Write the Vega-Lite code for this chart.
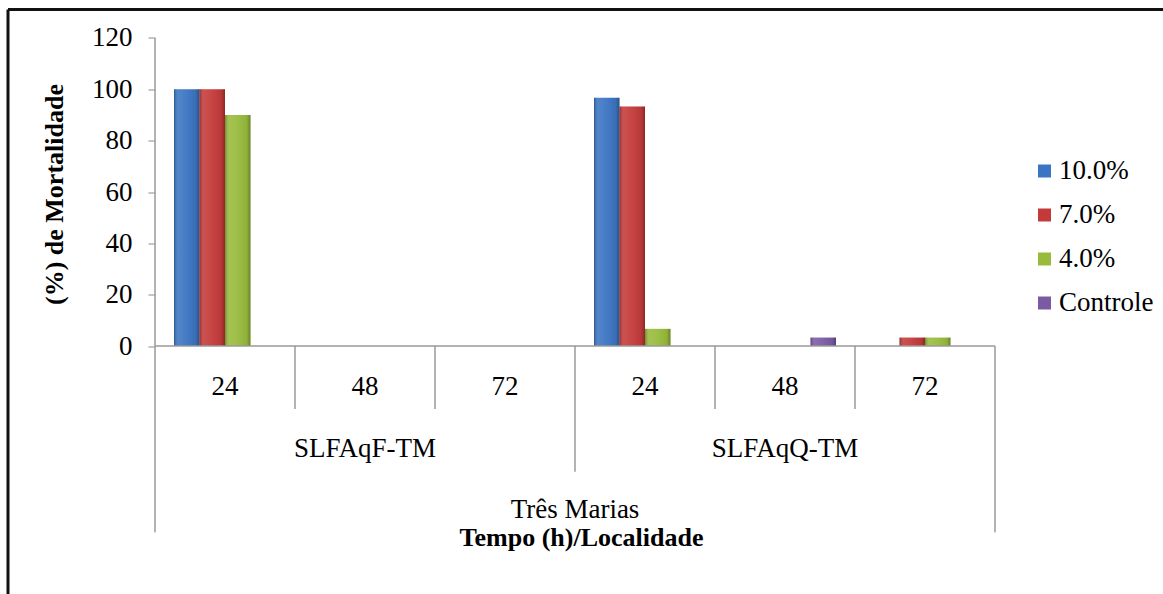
{
  "$schema": "https://vega.github.io/schema/vega-lite/v6.json",
  "autosize": {"type": "none"},
  "padding": {"left": 8, "top": 9.5, "right": 0, "bottom": 0},
  "width": 1155,
  "height": 584.5,
  "background": "#ffffff",
  "config": {
    "font": "Liberation Serif, Times New Roman, serif",
    "view": {"stroke": null},
    "text": {"font": "Liberation Serif, Times New Roman, serif", "fontSize": 27, "color": "#000000"}
  },
  "data": {
    "values": [
      {"loc": "SLFAqF-TM", "tempo": "24", "serie": "10.0%", "value": 100},
      {"loc": "SLFAqF-TM", "tempo": "24", "serie": "7.0%", "value": 100},
      {"loc": "SLFAqF-TM", "tempo": "24", "serie": "4.0%", "value": 90},
      {"loc": "SLFAqF-TM", "tempo": "24", "serie": "Controle", "value": 0},
      {"loc": "SLFAqF-TM", "tempo": "48", "serie": "10.0%", "value": 0},
      {"loc": "SLFAqF-TM", "tempo": "48", "serie": "7.0%", "value": 0},
      {"loc": "SLFAqF-TM", "tempo": "48", "serie": "4.0%", "value": 0},
      {"loc": "SLFAqF-TM", "tempo": "48", "serie": "Controle", "value": 0},
      {"loc": "SLFAqF-TM", "tempo": "72", "serie": "10.0%", "value": 0},
      {"loc": "SLFAqF-TM", "tempo": "72", "serie": "7.0%", "value": 0},
      {"loc": "SLFAqF-TM", "tempo": "72", "serie": "4.0%", "value": 0},
      {"loc": "SLFAqF-TM", "tempo": "72", "serie": "Controle", "value": 0},
      {"loc": "SLFAqQ-TM", "tempo": "24", "serie": "10.0%", "value": 96.7},
      {"loc": "SLFAqQ-TM", "tempo": "24", "serie": "7.0%", "value": 93.3},
      {"loc": "SLFAqQ-TM", "tempo": "24", "serie": "4.0%", "value": 6.7},
      {"loc": "SLFAqQ-TM", "tempo": "24", "serie": "Controle", "value": 0},
      {"loc": "SLFAqQ-TM", "tempo": "48", "serie": "10.0%", "value": 0},
      {"loc": "SLFAqQ-TM", "tempo": "48", "serie": "7.0%", "value": 0},
      {"loc": "SLFAqQ-TM", "tempo": "48", "serie": "4.0%", "value": 0},
      {"loc": "SLFAqQ-TM", "tempo": "48", "serie": "Controle", "value": 3.3},
      {"loc": "SLFAqQ-TM", "tempo": "72", "serie": "10.0%", "value": 0},
      {"loc": "SLFAqQ-TM", "tempo": "72", "serie": "7.0%", "value": 3.3},
      {"loc": "SLFAqQ-TM", "tempo": "72", "serie": "4.0%", "value": 3.3},
      {"loc": "SLFAqQ-TM", "tempo": "72", "serie": "Controle", "value": 0}
    ]
  },
  "transform": [{"calculate": "datum.loc + ' ' + datum.tempo", "as": "key"}],
  "resolve": {"scale": {"x": "independent"}, "axis": {"x": "independent"}},
  "layer": [
    {
      "data": {"values": [{}]},
      "layer": [
        {
          "mark": {"type": "rule", "stroke": "#111111", "strokeWidth": 3},
          "encoding": {
            "x": {"datum": 0, "type": "quantitative", "scale": {"domain": [0, 1]}, "axis": null}
          }
        },
        {
          "mark": {"type": "rule", "stroke": "#111111", "strokeWidth": 3},
          "encoding": {
            "y": {"datum": 131.1, "type": "quantitative"}
          }
        }
      ]
    },
    {
      "layer": [
        {
          "mark": {"type": "bar"},
          "encoding": {
            "x": {
              "field": "key", "type": "nominal",
              "scale": {
                "type": "band",
                "domain": ["SLFAqF-TM 24", "SLFAqF-TM 48", "SLFAqF-TM 72", "SLFAqQ-TM 24", "SLFAqQ-TM 48", "SLFAqQ-TM 72"],
                "range": [147, 987],
                "paddingInner": 0, "paddingOuter": 0
              },
              "axis": {
                "title": "Tempo (h)/Localidade", "labels": false, "ticks": false, "domain": false, "grid": false,
                "titleFontSize": 26, "titleFontWeight": "bold", "titleColor": "#000000", "titleFont": "Liberation Serif, Times New Roman, serif",
                "titleX": 573, "titleY": -49, "titleBaseline": "alphabetic", "titleAlign": "center"
              }
            },
            "xOffset": {
              "field": "serie", "type": "nominal",
              "scale": {"type": "band", "domain": ["10.0%", "7.0%", "4.0%", "Controle"], "paddingInner": 0, "paddingOuter": 0.745}
            },
            "y": {
              "field": "value", "type": "quantitative",
              "scale": {"domain": [-96.6, 131.1], "nice": false, "zero": false},
              "axis": {
                "title": "(%) de Mortalidade",
                "values": [0, 20, 40, 60, 80, 100, 120],
                "offset": -147, "domain": false, "grid": false,
                "tickSize": 7, "tickColor": "#8c8c8c", "labelPadding": 16,
                "labelFontSize": 27, "labelColor": "#000000", "labelFont": "Liberation Serif, Times New Roman, serif",
                "titleFontSize": 26, "titleFontWeight": "bold", "titleColor": "#000000", "titleFont": "Liberation Serif, Times New Roman, serif",
                "titleX": -101, "titleY": 184.5, "titleAlign": "center", "titleBaseline": "middle", "titleAngle": -90
              }
            },
            "color": {
              "field": "serie", "type": "nominal",
              "scale": {"domain": ["10.0%", "7.0%", "4.0%", "Controle"], "range": ["#3b74c2", "#c43a3a", "#98bb3c", "#7a5ba3"]},
              "legend": {
                "title": null, "orient": "none", "legendX": 1023, "legendY": 148,
                "symbolType": "square", "symbolSize": 169, "symbolStrokeWidth": 0,
                "labelFont": "Liberation Serif, Times New Roman, serif", "labelFontSize": 27, "labelColor": "#000000",
                "rowPadding": 16, "labelOffset": 1, "padding": 0
              }
            }
          }
        },
        {
          "mark": {
            "type": "bar",
            "fill": {
              "gradient": "linear", "x1": 0, "x2": 1, "y1": 0, "y2": 0,
              "stops": [
                {"offset": 0, "color": "rgba(0,0,0,0.25)"},
                {"offset": 0.15, "color": "rgba(255,255,255,0.12)"},
                {"offset": 0.5, "color": "rgba(255,255,255,0.05)"},
                {"offset": 0.85, "color": "rgba(0,0,0,0.05)"},
                {"offset": 1, "color": "rgba(0,0,0,0.3)"}
              ]
            }
          },
          "encoding": {
            "x": {"field": "key", "type": "nominal"},
            "xOffset": {"field": "serie", "type": "nominal"},
            "y": {"field": "value", "type": "quantitative"}
          }
        },
        {
          "data": {"values": [{}]},
          "mark": {"type": "rule", "stroke": "#9a9a9a", "strokeWidth": 1.5},
          "encoding": {
            "x": {"datum": "SLFAqF-TM 24", "type": "nominal", "bandPosition": 0},
            "x2": {"datum": "SLFAqQ-TM 72", "bandPosition": 1},
            "y": {"datum": 0, "type": "quantitative"}
          }
        },
        {
          "data": {"values": [{}]},
          "mark": {"type": "rule", "stroke": "#9a9a9a", "strokeWidth": 1.5},
          "encoding": {
            "x": {"datum": "SLFAqF-TM 24", "type": "nominal", "bandPosition": 0},
            "y": {"datum": -72.5, "type": "quantitative"},
            "y2": {"datum": 120}
          }
        },
        {
          "data": {"values": [{"key": "SLFAqF-TM 48"}, {"key": "SLFAqF-TM 72"}, {"key": "SLFAqQ-TM 48"}, {"key": "SLFAqQ-TM 72"}]},
          "mark": {"type": "rule", "stroke": "#9a9a9a", "strokeWidth": 1.5},
          "encoding": {
            "x": {"field": "key", "type": "nominal", "bandPosition": 0},
            "y": {"datum": 0, "type": "quantitative"},
            "y2": {"datum": -24.5}
          }
        },
        {
          "data": {"values": [{}]},
          "mark": {"type": "rule", "stroke": "#9a9a9a", "strokeWidth": 1.5},
          "encoding": {
            "x": {"datum": "SLFAqQ-TM 24", "type": "nominal", "bandPosition": 0},
            "y": {"datum": 0, "type": "quantitative"},
            "y2": {"datum": -49}
          }
        },
        {
          "data": {"values": [{}]},
          "mark": {"type": "rule", "stroke": "#9a9a9a", "strokeWidth": 1.5},
          "encoding": {
            "x": {"datum": "SLFAqQ-TM 72", "type": "nominal", "bandPosition": 1},
            "y": {"datum": 0, "type": "quantitative"},
            "y2": {"datum": -72.5}
          }
        },
        {
          "transform": [{"filter": "datum.serie == '10.0%'"}],
          "mark": {"type": "text", "baseline": "alphabetic", "align": "center"},
          "encoding": {
            "x": {"field": "key", "type": "nominal"},
            "y": {"datum": -19.1, "type": "quantitative"},
            "text": {"field": "tempo"}
          }
        },
        {
          "data": {"values": [{"loc": "SLFAqF-TM", "key": "SLFAqF-TM 48"}, {"loc": "SLFAqQ-TM", "key": "SLFAqQ-TM 48"}]},
          "mark": {"type": "text", "baseline": "alphabetic", "align": "center"},
          "encoding": {
            "x": {"field": "key", "type": "nominal"},
            "y": {"datum": -43.2, "type": "quantitative"},
            "text": {"field": "loc"}
          }
        },
        {
          "data": {"values": [{"regiao": "Três Marias", "key": "SLFAqQ-TM 24"}]},
          "mark": {"type": "text", "baseline": "alphabetic", "align": "center"},
          "encoding": {
            "x": {"field": "key", "type": "nominal", "bandPosition": 0},
            "y": {"datum": -67, "type": "quantitative"},
            "text": {"field": "regiao"}
          }
        }
      ]
    }
  ]
}
